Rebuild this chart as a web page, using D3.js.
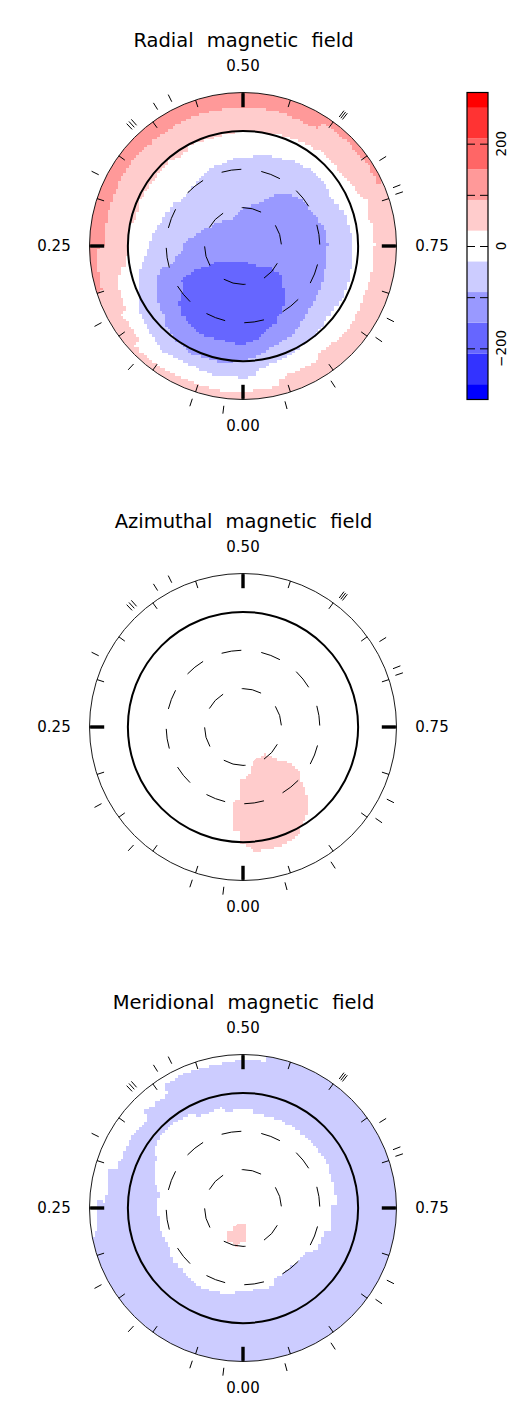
<!DOCTYPE html>
<html>
<head>
<meta charset="utf-8">
<script src="https://cdn.jsdelivr.net/npm/d3@7"></script>
<style>
  html, body { margin: 0; padding: 0; background: #fff; }
  svg { display: block; }
  text { font-family: "DejaVu Sans", sans-serif; fill: #000; }
</style>
</head>
<body>
<script>
var width = 520,
  height = 1406;

// field levels and colour bar
var barEdges = [-300, -270, -210, -150, -90, -30, 30, 90, 150, 210, 270, 300];
var barColors = ["#0000ff", "#3333ff", "#6666ff", "#9999ff", "#ccccff", "#ffffff", "#ffcccc", "#ff9999", "#ff6666", "#ff3333", "#ff0000"];
var barTicks = [-200, -100, 0, 100, 200];
var barLabels = [-200, 0, 200];

// axis stuff
var titles = ["Radial magnetic field", "Azimuthal magnetic field", "Meridional magnetic field"];
var phaseLabels = [0, 0.25, 0.5, 0.75];
var minorPhases = d3.range(0, 20).map(i => i / 20);
var colatCircles = [30, 60];
var obsPhases = [0.019, 0.051, 0.119, 0.171, 0.323, 0.379, 0.382, 0.385, 0.411, 0.427, 0.602, 0.604, 0.606, 0.661, 0.691, 0.698, 0.824, 0.846, 0.908, 0.958];

var radialWhite = [[0, 113.9], [.027, 114.2], [.054, 113.6], [.098, 114.7], [.132, 114.7], [.133, 108.7], [.169, 108.4], [.172, 104], [.202, 102.2], [.221, 97.7], [.222, 93.6], [.242, 90.2], [.281, 91.2], [.291, 86], [.317, 88.1], [.344, 87.6], [.385, 88.1], [.418, 86.3], [.419, 90.4], [.5, 90.4], [.556, 91.5], [.588, 93.8], [.61, 95.1], [.623, 95.6], [.648, 94.9], [.671, 98], [.686, 98.8], [.694, 103.7], [.718, 100.1], [.727, 102.9], [.75, 102.7], [.769, 102.7], [.794, 103.2], [.828, 103.7], [.85, 105], [.871, 104.8], [.905, 103.2], [.906, 107.6], [.923, 106.6], [.958, 108.7], [.96, 113.6], [.985, 113.1]];
var radialPinkBand = [[.2, 120], [.202, 115.2], [.215, 114.7], [.232, 114.2], [.247, 114.4], [.251, 107.4], [.268, 108.7], [.299, 109.2], [.333, 109.8], [.36, 109.5], [.388, 108.4], [.421, 108.9], [.448, 108.9], [.479, 108.4], [.5, 108.4], [.519, 108.4], [.547, 108.4], [.59, 107.9], [.591, 113.9], [.601, 114.9], [.63, 114.9], [.66, 116], [.68, 115.5], [.681, 120]];
var radialBlue1 = [[0, 103], [.036, 103.5], [.069, 101.1], [.107, 104], [.114, 101.1], [.144, 97.5], [.161, 94.9], [.205, 85.7], [.228, 78.7], [.25, 74], [.272, 70.9], [.3, 67], [.338, 63.9], [.361, 59.9], [.401, 62], [.436, 65.9], [.483, 69.1], [.5, 68.5], [.529, 73.2], [.564, 74.3], [.588, 77.4], [.619, 79.2], [.648, 80], [.674, 78.2], [.701, 83.7], [.736, 85.2], [.75, 85.7], [.778, 86.3], [.801, 87.6], [.824, 88.4], [.853, 87], [.889, 89.9], [.917, 91.7], [.938, 93.6], [.983, 98.3], [.984, 102.7]];
var radialBlue2 = [[0, 89.6], [.027, 92.8], [.071, 93], [.098, 89.9], [.121, 86.8], [.133, 82.4], [.163, 79], [.193, 71.4], [.208, 67.2], [.207, 60.5], [.228, 51.1], [.244, 45.3], [.257, 46.7], [.296, 36.5], [.331, 31], [.379, 26.1], [.438, 23.5], [.5, 29.5], [.549, 34.9], [.585, 46.4], [.617, 54.7], [.649, 58.6], [.693, 61.5], [.723, 65.9], [.75, 66.2], [.786, 66.5], [.817, 68.8], [.858, 71.4], [.895, 74.8], [.918, 80], [.948, 81.8], [.973, 86.5], [.994, 89.1]];
var radialBlue3 = [[.072, 14.3], [.158, 21.4], [.164, 30], [.174, 39.4], [.172, 48.5], [.168, 55.3], [.147, 59.2], [.134, 67.5], [.115, 72.5], [.09, 74.8], [.072, 76.9], [.044, 75.6], [.018, 76.6], [0, 76.6], [.977, 74.3], [.963, 68.8], [.938, 65.4], [.925, 60.7], [.907, 57.1], [.885, 49.5], [.869, 41.2], [.848, 37], [.851, 29.5], [.891, 20.8], [.939, 14.6], [0, 12.2]];

var azimuthalPink = [[.939, 26.3], [.891, 27.2], [.878, 34.1], [.855, 46.4], [.858, 55.5], [.872, 63.6], [.882, 73.8], [.897, 84.7], [.915, 90.4], [.922, 94.3], [.941, 97.7], [.97, 98], [.985, 98], [.995, 92.3], [.004, 89.7], [.005, 80.5], [.016, 80.9], [.022, 58.9], [.007, 57.1], [.009, 42.7], [.988, 38.8], [.966, 31.8]];

var meridionalEdge = [[.22, 120], [.223, 117.3], [.231, 114.7], [.258, 114.7], [.257, 107.4], [.294, 109.5], [.298, 102.2], [.304, 103.5], [.342, 104], [.37, 101.6], [.372, 108.2], [.408, 107.6], [.409, 114.7], [.436, 115.2], [.466, 114.2], [.486, 114.9], [.511, 116.5], [.524, 115.2], [.523, 120]];
var meridionalWhite = [[.467, 80.8], [.471, 77.1], [.5, 77.1], [.517, 77.7], [.518, 74], [.558, 74.3], [.59, 73.8], [.626, 73.8], [.666, 74.3], [.708, 73.2], [.745, 73.2], [.744, 69.3], [.789, 71.4], [.799, 65.9], [.831, 67.5], [.844, 61.5], [.877, 60.2], [.933, 61.5], [.939, 66.5], [0, 65.4], [.03, 68.5], [.08, 70.1], [.156, 68.5], [.167, 65.9], [.215, 66.5], [.25, 66.7], [.28, 67], [.299, 72.2], [.321, 77.1], [.332, 77.7], [.346, 83.7], [.364, 86.3], [.388, 86.3], [.421, 83.9], [.425, 79.8]];
var meridionalPink = [[.062, 13], [.979, 12], [.987, 25.5], [.026, 30.8], [.091, 26]];

var svg = d3.select("body").append("svg")
  .attr("width", width)
  .attr("height", height);

var r = d3.scaleLinear().domain([0, 120]).range([0, 153.5]);
var ang = d3.scaleLinear().domain([0, 1]).range([Math.PI, 3 * Math.PI]);
var field = d3.scaleThreshold().domain(barEdges.slice(1, -1)).range(barColors);

// the maps are gridded, so the contour edges come out as little steps
var grid = 2.6;
function stairCurve(context) {
  var pts, last;
  var q = v => Math.round(v / grid) * grid;
  return {
    lineStart() { pts = []; last = null; },
    point(x, y) { pts.push([x, y]); },
    lineEnd() {
      pts.push(pts[0]);
      for (var i = 1; i < pts.length; i++) {
        var a = pts[i - 1], b = pts[i];
        var n = Math.ceil(Math.hypot(b[0] - a[0], b[1] - a[1]) / grid);
        for (var k = 0; k < n; k++) {
          var x = q(a[0] + (b[0] - a[0]) * k / n),
            y = q(a[1] + (b[1] - a[1]) * k / n);
          if (!last) context.moveTo(x, y);
          else { context.lineTo(x, last[1]); context.lineTo(x, y); }
          last = [x, y];
        }
      }
      context.closePath();
    }
  };
}

var contour = d3.lineRadial()
  .angle(d => ang(d[0]))
  .radius(d => r(d[1]))
  .curve(stairCurve);

// a band reaches out past the rim and gets clipped there
var ring = data => data.concat(data.slice().reverse().map(d => [d[0], 126]));

// value 0 paints white, the rest is painted in order
var panels = [
  {
    cy: 246, base: 60, layers: [
      { data: radialWhite, value: 0 },
      { data: ring(radialPinkBand), value: 120 },
      { data: radialBlue1, value: -60 },
      { data: radialBlue2, value: -120 },
      { data: radialBlue3, value: -180 }
    ]
  },
  {
    cy: 727, base: 0, layers: [
      { data: azimuthalPink, value: 60 }
    ]
  },
  {
    cy: 1208, base: -60, layers: [
      { data: ring(meridionalEdge), value: 0 },
      { data: meridionalWhite, value: 0 },
      { data: meridionalPink, value: 60 }
    ]
  }
];

panels.forEach((p, i) => {
  var g = svg.append("g").attr("transform", "translate(243," + p.cy + ")");

  g.append("clipPath").attr("id", "disk" + i)
    .append("circle").attr("r", r(120));

  var maps = g.append("g")
    .attr("clip-path", "url(#disk" + i + ")");

  maps.append("circle")
    .attr("r", r(120))
    .attr("fill", field(p.base));

  maps.selectAll("path")
    .data(p.layers)
    .enter()
    .append("path")
    .attr("d", d => contour(d.data))
    .attr("fill", d => field(d.value))
    .attr("shape-rendering", "crispEdges");

  // dashed colatitude circles, pen starts at phase 0
  colatCircles.forEach((c, k) => {
    var ctx = d3.path();
    if (k == 0) ctx.arc(0, 0, r(c), Math.PI / 2, Math.PI / 2 + 2 * Math.PI, false);
    else ctx.arc(0, 0, r(c), Math.PI / 2, Math.PI / 2 - 2 * Math.PI, true);
    g.append("path")
      .attr("d", ctx.toString())
      .attr("fill", "none")
      .attr("stroke", "#000")
      .attr("stroke-width", 1)
      .attr("stroke-dasharray", k == 0 ? "20.1 19.6" : "20 20.2")
      .attr("stroke-dashoffset", k == 0 ? 0 : -1.3);
  });

  g.append("circle")
    .attr("r", r(90))
    .attr("fill", "none")
    .attr("stroke", "#000")
    .attr("stroke-width", 2);

  g.append("circle")
    .attr("r", r(120))
    .attr("fill", "none")
    .attr("stroke", "#000")
    .attr("stroke-width", 0.9);

  // ticks on the rim
  var tick = (ph, r0, r1) => [d3.pointRadial(ang(ph), r(r0)), d3.pointRadial(ang(ph), r(r1))];

  g.selectAll(".minor")
    .data(minorPhases)
    .enter()
    .append("path")
    .attr("class", "minor")
    .attr("d", d => d3.line()(tick(d, 114.2, 120)))
    .attr("stroke", "#000")
    .attr("stroke-width", 1);

  g.selectAll(".major")
    .data(phaseLabels)
    .enter()
    .append("path")
    .attr("class", "major")
    .attr("d", d => d3.line()(tick(d, 108.5, 119.5)))
    .attr("stroke", "#000")
    .attr("stroke-width", 3.4);

  g.selectAll(".obs")
    .data(obsPhases)
    .enter()
    .append("path")
    .attr("class", "obs")
    .attr("d", d => d3.line()(tick(d, 125.8, 132)))
    .attr("stroke", "#000")
    .attr("stroke-width", 1);

  g.selectAll(".phase")
    .data(phaseLabels)
    .enter()
    .append("text")
    .attr("class", "phase")
    .attr("x", d => d == 0.25 ? -189 : d == 0.75 ? 189 : 0)
    .attr("y", d => d == 0 ? 185 : d == 0.5 ? -175 : 5)
    .attr("text-anchor", "middle")
    .attr("font-size", 15)
    .text(d => d3.format(".2f")(d));

  g.append("text")
    .attr("x", 0.5)
    .attr("y", -199)
    .attr("text-anchor", "middle")
    .attr("font-size", 19.5)
    .attr("word-spacing", 7)
    .text(titles[i]);
});

// colour bar
var barY = d3.scaleLinear().domain([-300, 300]).range([399.5, 92.5]);
var barX0 = 467,
  barX1 = 488;

svg.selectAll(".cell")
  .data(barColors)
  .enter()
  .append("rect")
  .attr("class", "cell")
  .attr("x", barX0)
  .attr("width", barX1 - barX0)
  .attr("y", (d, i) => barY(barEdges[i + 1]))
  .attr("height", (d, i) => barY(barEdges[i]) - barY(barEdges[i + 1]))
  .attr("fill", d => d);

var right = svg.append("g")
  .attr("transform", "translate(" + barX1 + ",0)")
  .call(d3.axisRight(barY).tickValues(barTicks).tickSize(-8).tickFormat(""));
var left = svg.append("g")
  .attr("transform", "translate(" + barX0 + ",0)")
  .call(d3.axisLeft(barY).tickValues(barTicks).tickSize(-8).tickFormat(""));
right.select(".domain").remove();
left.select(".domain").remove();

svg.append("rect")
  .attr("x", barX0)
  .attr("y", barY(300))
  .attr("width", barX1 - barX0)
  .attr("height", barY(-300) - barY(300))
  .attr("fill", "none")
  .attr("stroke", "#000")
  .attr("stroke-width", 1.2);

svg.selectAll(".barlabel")
  .data(barLabels)
  .enter()
  .append("text")
  .attr("class", "barlabel")
  .attr("transform", d => "translate(506," + barY(d) + ") rotate(-90)")
  .attr("text-anchor", "middle")
  .attr("font-size", 13.5)
  .text(d => d3.format("d")(d));
</script>
</body>
</html>
